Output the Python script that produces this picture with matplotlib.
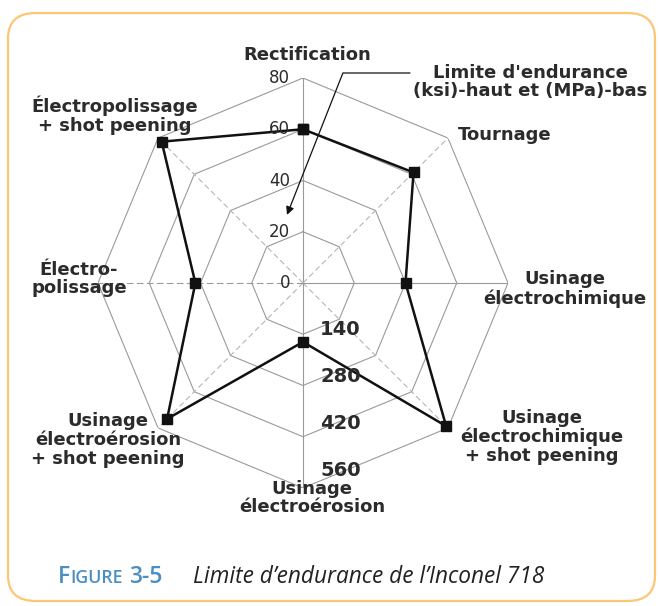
import numpy as np
import matplotlib
matplotlib.use("Agg")
import matplotlib.pyplot as plt
from matplotlib.patches import FancyBboxPatch
from matplotlib.transforms import offset_copy

# ---------------------------------------------------------
# data
# ---------------------------------------------------------
categories = [
    "Rectification",
    "Tournage",
    "Usinage\nélectrochimique",
    "Usinage\nélectrochimique\n+ shot peening",
    "Usinage\nélectroérosion",
    "Usinage\nélectroérosion\n+ shot peening",
    "Électro-\npolissage",
    "Électropolissage\n+ shot peening",
]
endurance_ksi = [60, 61, 40, 79, 23, 75, 42, 78]

ksi_ticks = [0, 20, 40, 60, 80]
mpa_ticks = [140, 280, 420, 560]

annot_text = "Limite d'endurance\n(ksi)-haut et (MPa)-bas"
caption_num = "3-5"
caption_text = "Limite d\u2019endurance de l\u2019Inconel 718"

# ---------------------------------------------------------
# figure
# ---------------------------------------------------------
W, H = 659, 606
fig = plt.figure(figsize=(W / 100, H / 100), dpi=100)
fig.patch.set_facecolor("white")

def px(x, y):
    # pixel (from top-left) -> figure fraction
    return x / W, 1 - y / H

# rounded orange frame
frame = FancyBboxPatch((8 / W, 1 - 601 / H), 647 / W, 588 / H,
                       boxstyle="round,pad=0,rounding_size=0.042",
                       transform=fig.transFigure, fill=False,
                       edgecolor="#fcc774", linewidth=1.6)
fig.patches.append(frame)

cx, cy, R = 303, 283, 205
ax = fig.add_axes([(cx - R) / W, (H - cy - R) / H, 2 * R / W, 2 * R / H],
                  projection="polar")
ax.set_theta_zero_location("N")
ax.set_theta_direction(-1)
ax.set_ylim(0, 80)
ax.axis("off")

n = len(categories)
angles = np.linspace(0, 2 * np.pi, n, endpoint=False)
closed = np.append(angles, angles[0])

grid_col = "#9a9a9a"
# rings
for lev in ksi_ticks[1:]:
    ax.plot(closed, [lev] * (n + 1), color=grid_col, lw=0.8, zorder=1)
# spokes
for i, a in enumerate(angles):
    if i in (0, 2, 4):
        ls = "-"
        col = grid_col
    elif i == 6:
        ls = (0, (6, 3))
        col = grid_col
    else:
        ls = (0, (5, 3))
        col = "#b5b5b5"
    ax.plot([a, a], [0, 80], color=col, lw=0.8, ls=ls, zorder=1)

# data polygon
vals = endurance_ksi + endurance_ksi[:1]
ax.plot(closed, vals, color="#111111", lw=1.8, marker="s", markersize=7,
        markerfacecolor="#111111", markeredgecolor="#111111", zorder=3,
        clip_on=False)

txt_col = "#2b2b2b"

# ksi tick labels (up)
tr_ksi = offset_copy(ax.transData, fig=fig, x=-13, y=0, units="dots")
for t in ksi_ticks:
    ax.text(0, t, str(t), transform=tr_ksi, ha="right", va="center",
            fontsize=12, color=txt_col, zorder=4)

# MPa tick labels (down)
tr_mpa = offset_copy(ax.transData, fig=fig, x=17, y=0, units="dots")
for m in mpa_ticks:
    ax.text(np.pi, m / 7 * 0.915, str(m), transform=tr_mpa, ha="left",
            va="center", fontsize=14, fontweight="bold", color=txt_col,
            zorder=4)

# category labels
label_pos = [(307, 55), (505, 135), (565, 289), (542, 437),
             (312, 498), (108, 440), (79, 279), (115, 115)]
for lab, (x, y) in zip(categories, label_pos):
    fx, fy = px(x, y)
    fig.text(fx, fy, lab, ha="center", va="center", fontsize=13,
             fontweight="bold", color=txt_col, linespacing=1.05,
             multialignment="center")

# annotation
fx, fy = px(530, 82)
fig.text(fx, fy, annot_text, ha="center", va="center", fontsize=13,
         fontweight="bold", color=txt_col, linespacing=1.05)
tip_theta = np.arctan2(-16, 68)
ax.annotate("", xy=(tip_theta, 27.3), xycoords="data",
            xytext=(410, H - 73), textcoords="figure pixels",
            arrowprops=dict(arrowstyle="-|>", color="#111111", lw=0.9,
                            shrinkA=0, shrinkB=0, mutation_scale=12,
                            connectionstyle="angle,angleA=180,angleB=68.5,rad=0"),
            annotation_clip=False)

# caption
blue = "#4b8ec3"
fig.canvas.draw()
r = fig.canvas.get_renderer()
base_y = 1 - 583 / H
t1 = fig.text(58 / W, base_y, "F", fontsize=16.5, color=blue,
              family="Open Sans", fontweight="semibold", va="baseline")
bb = t1.get_window_extent(r)
t2 = fig.text(bb.x1 / W, base_y, "IGURE", fontsize=12.8, color=blue,
              family="Open Sans", fontweight="semibold", va="baseline")
bb = t2.get_window_extent(r)
t3 = fig.text(bb.x1 / W + 6 / W, base_y, caption_num, fontsize=16.5,
              color=blue, family="Open Sans", fontweight="semibold",
              va="baseline")
fig.text(193 / W, base_y, caption_text, fontsize=16.3,
         color="#222222", family="Open Sans", style="italic",
         va="baseline")

fig.savefig("out.png", dpi=100, facecolor="white")
